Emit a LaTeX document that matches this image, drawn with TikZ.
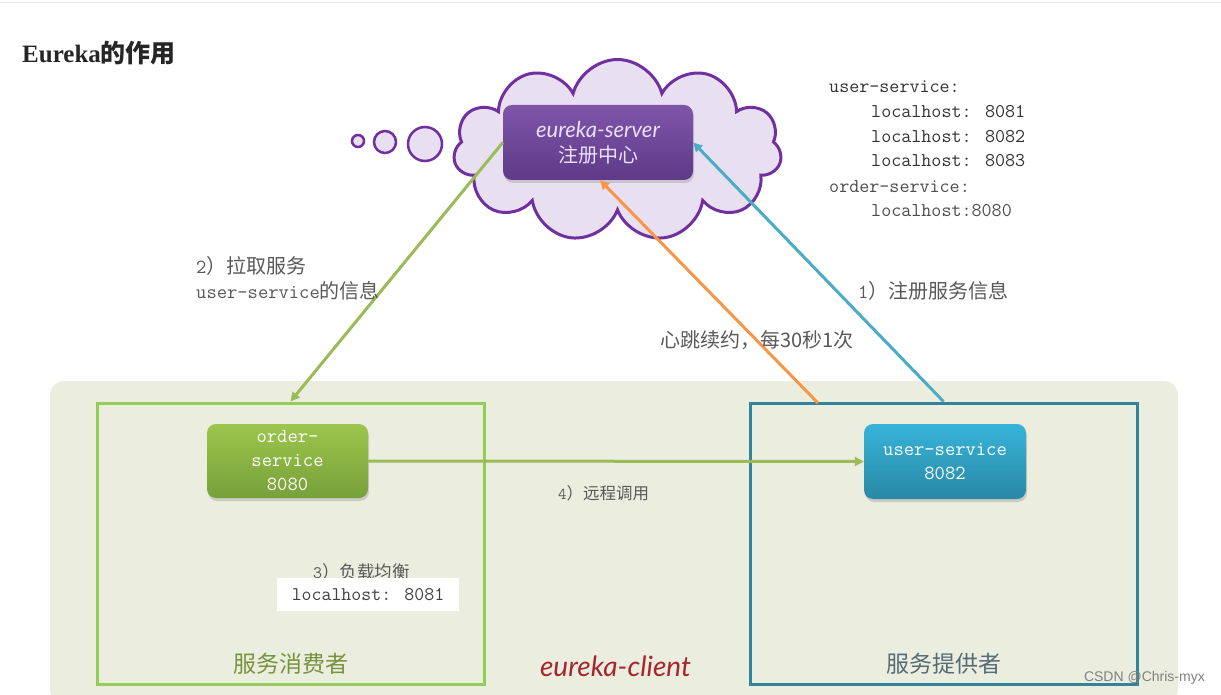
\documentclass[tikz,border=0pt]{standalone}
\usepackage{fontspec}
\setmainfont{Liberation Serif}
\newfontfamily\cjk{Noto Sans CJK SC}
\newfontfamily\hand{Lato}
\newfontfamily\wmfont{Liberation Sans}
\usetikzlibrary{shapes.symbols,arrows.meta,shadows}
\newcommand\fs[2]{\fontsize{#1}{#2}\selectfont}
\definecolor{bgc}{HTML}{EBEEDF}
\definecolor{consc}{HTML}{92CD55}
\definecolor{provc}{HTML}{31849B}
\definecolor{arrg}{HTML}{9BBB59}
\definecolor{arro}{HTML}{F79646}
\definecolor{arrb}{HTML}{4BACC6}
\definecolor{purp}{HTML}{7030A0}
\definecolor{cloudf}{HTML}{E8E0F0}
\definecolor{lblc}{HTML}{595959}
\definecolor{olive}{HTML}{76923C}
\definecolor{tealg}{HTML}{556B75}
\definecolor{dred}{HTML}{A5262D}
\definecolor{srvtop}{HTML}{7F55AA}
\definecolor{srvbot}{HTML}{5E3A88}
\definecolor{ordtop}{HTML}{9DC64C}
\definecolor{ordbot}{HTML}{76A03A}
\definecolor{usrtop}{HTML}{36B4D8}
\definecolor{usrbot}{HTML}{2A88A6}
\definecolor{srvtxt}{HTML}{EAE0F8}
\begin{document}
\begin{tikzpicture}[x=1pt,y=-1pt,
  box/.style={draw, line width=3pt, fill=none, minimum width=387pt, minimum height=281pt, inner sep=0pt},
  svc/.style={rounded corners=9pt, minimum height=75pt, inner sep=0pt, align=center, text=white,
    drop shadow={shadow xshift=1pt, shadow yshift=-3pt, opacity=0.3}},
  conn/.style={line width=3pt, -{Triangle[length=9pt,width=9pt]}},
  lbl/.style={text=lblc, inner sep=0pt},
  code/.style={anchor=base west, inner sep=0pt, font=\ttfamily\fs{19.5}{24}},
  bubble/.style={circle, draw=purp, fill=cloudf, line width=2.5pt, inner sep=0pt}]
\useasboundingbox (0,0) rectangle (1221,695);
\fill[white] (0,0) rectangle (1221,695);
\draw[black!9, line width=1pt] (0,3) -- (1221,3);
% client area
\fill[bgc, rounded corners=14pt] (50,381) rectangle (1178,703);
\node[box, draw=consc] (cons) at (290.5,543.5) {};
\node[box, draw=provc] (prov) at (943.5,543.5) {};
% cloud
\node[cloud, cloud puffs=11, cloud ignores aspect, draw=purp, fill=cloudf, line width=3pt,
  minimum width=328pt, minimum height=182pt] (cloud) at (617.5,150.5) {};
\node[bubble, minimum size=12pt] (b1) at (358,141) {};
\node[bubble, minimum size=22pt] (b2) at (385,142) {};
\node[bubble, minimum size=34pt] (b3) at (425,144) {};
% nodes
\node[svc, minimum width=190pt, top color=srvtop, bottom color=srvbot, text=srvtxt, font=\fs{21}{25}] (srv) at (598,142.5)
  {{\hand\itshape\fs{22}{25}eureka-server}\\{\cjk\fs{20}{25}注册中心}};
\node[svc, minimum width=161pt, minimum height=74pt, top color=ordtop, bottom color=ordbot, font=\ttfamily\fs{20}{24}] (ord) at (287.5,461)
  {order-\\service\\8080};
\node[svc, minimum width=162pt, top color=usrtop, bottom color=usrbot, font=\ttfamily\fs{20}{24}] (usr) at (945,461.5)
  {user-service\\8082};
% connectors
\draw[conn, arrg] (srv.west) -- (cons.north);
\coordinate (hb) at (818,403);
\draw[conn, arro] (hb) -- ([xshift=2pt]srv.south);
\draw[conn, arrb] (prov.north) -- (srv.east);
\draw[conn, arrg] (ord.east) -- (usr.west);
% registry text
\node[code, text=black!80] (l1) at (829,93) {user-service:};
\node[code, text=black!80] (l2) at (871,118) {localhost: 8081};
\node[code, text=black!80] (l3) at (871,143) {localhost: 8082};
\node[code, text=black!80] (l4) at (871,167) {localhost: 8083};
\node[code, text=black!70] (l5) at (829,193) {order-service:};
\node[code, text=black!70] (l6) at (871,217) {localhost:8080};
% labels
\node[lbl, anchor=west] (lp1) at (196,266) {\fs{20}{24}{\ttfamily 2}\cjk ）拉取服务};
\node[lbl, anchor=west] (lp2) at (196,291) {\fs{20}{24}{\ttfamily user-service}\cjk 的信息};
\node[lbl, anchor=west] (lreg) at (858,291) {\fs{20}{24}{\ttfamily 1}\cjk ）注册服务信息};
\node[lbl, anchor=west] (lhb) at (660,340) {\cjk\fs{20}{24}心跳续约，每30秒1次};
\node[lbl, anchor=west] (lcall) at (558,493) {\fs{16.5}{20}{\ttfamily 4}\cjk ）远程调用};
\node[lbl, anchor=west] (llb) at (313,572) {\fs{17.5}{21}{\ttfamily 3}\cjk ）负载均衡};
\node[fill=white, minimum width=182pt, minimum height=33pt, inner sep=0pt, text=black!75] (lbbox) at (368,594.5)
  {\ttfamily\fs{19.3}{23}localhost: 8081};
\node[inner sep=0pt, text=olive] (tcons) at (291,664) {\cjk\fs{23}{27}服务消费者};
\node[inner sep=0pt, text=tealg] (tprov) at (944,664) {\cjk\fs{23}{27}服务提供者};
\node[inner sep=0pt, text=dred] (tcli) at (615.5,666) {\hand\itshape\fs{28}{32}eureka-client};
% title and watermark
\node[anchor=west, inner sep=0pt, text=black!85] (title) at (22,53) {\fs{25}{30}\bfseries Eureka{\cjk 的作用}};
\node[anchor=east, inner sep=0pt, text=black!50] (wm) at (1205,678) {\wmfont\fs{14}{17}CSDN @Chris-myx};
\end{tikzpicture}
\end{document}
